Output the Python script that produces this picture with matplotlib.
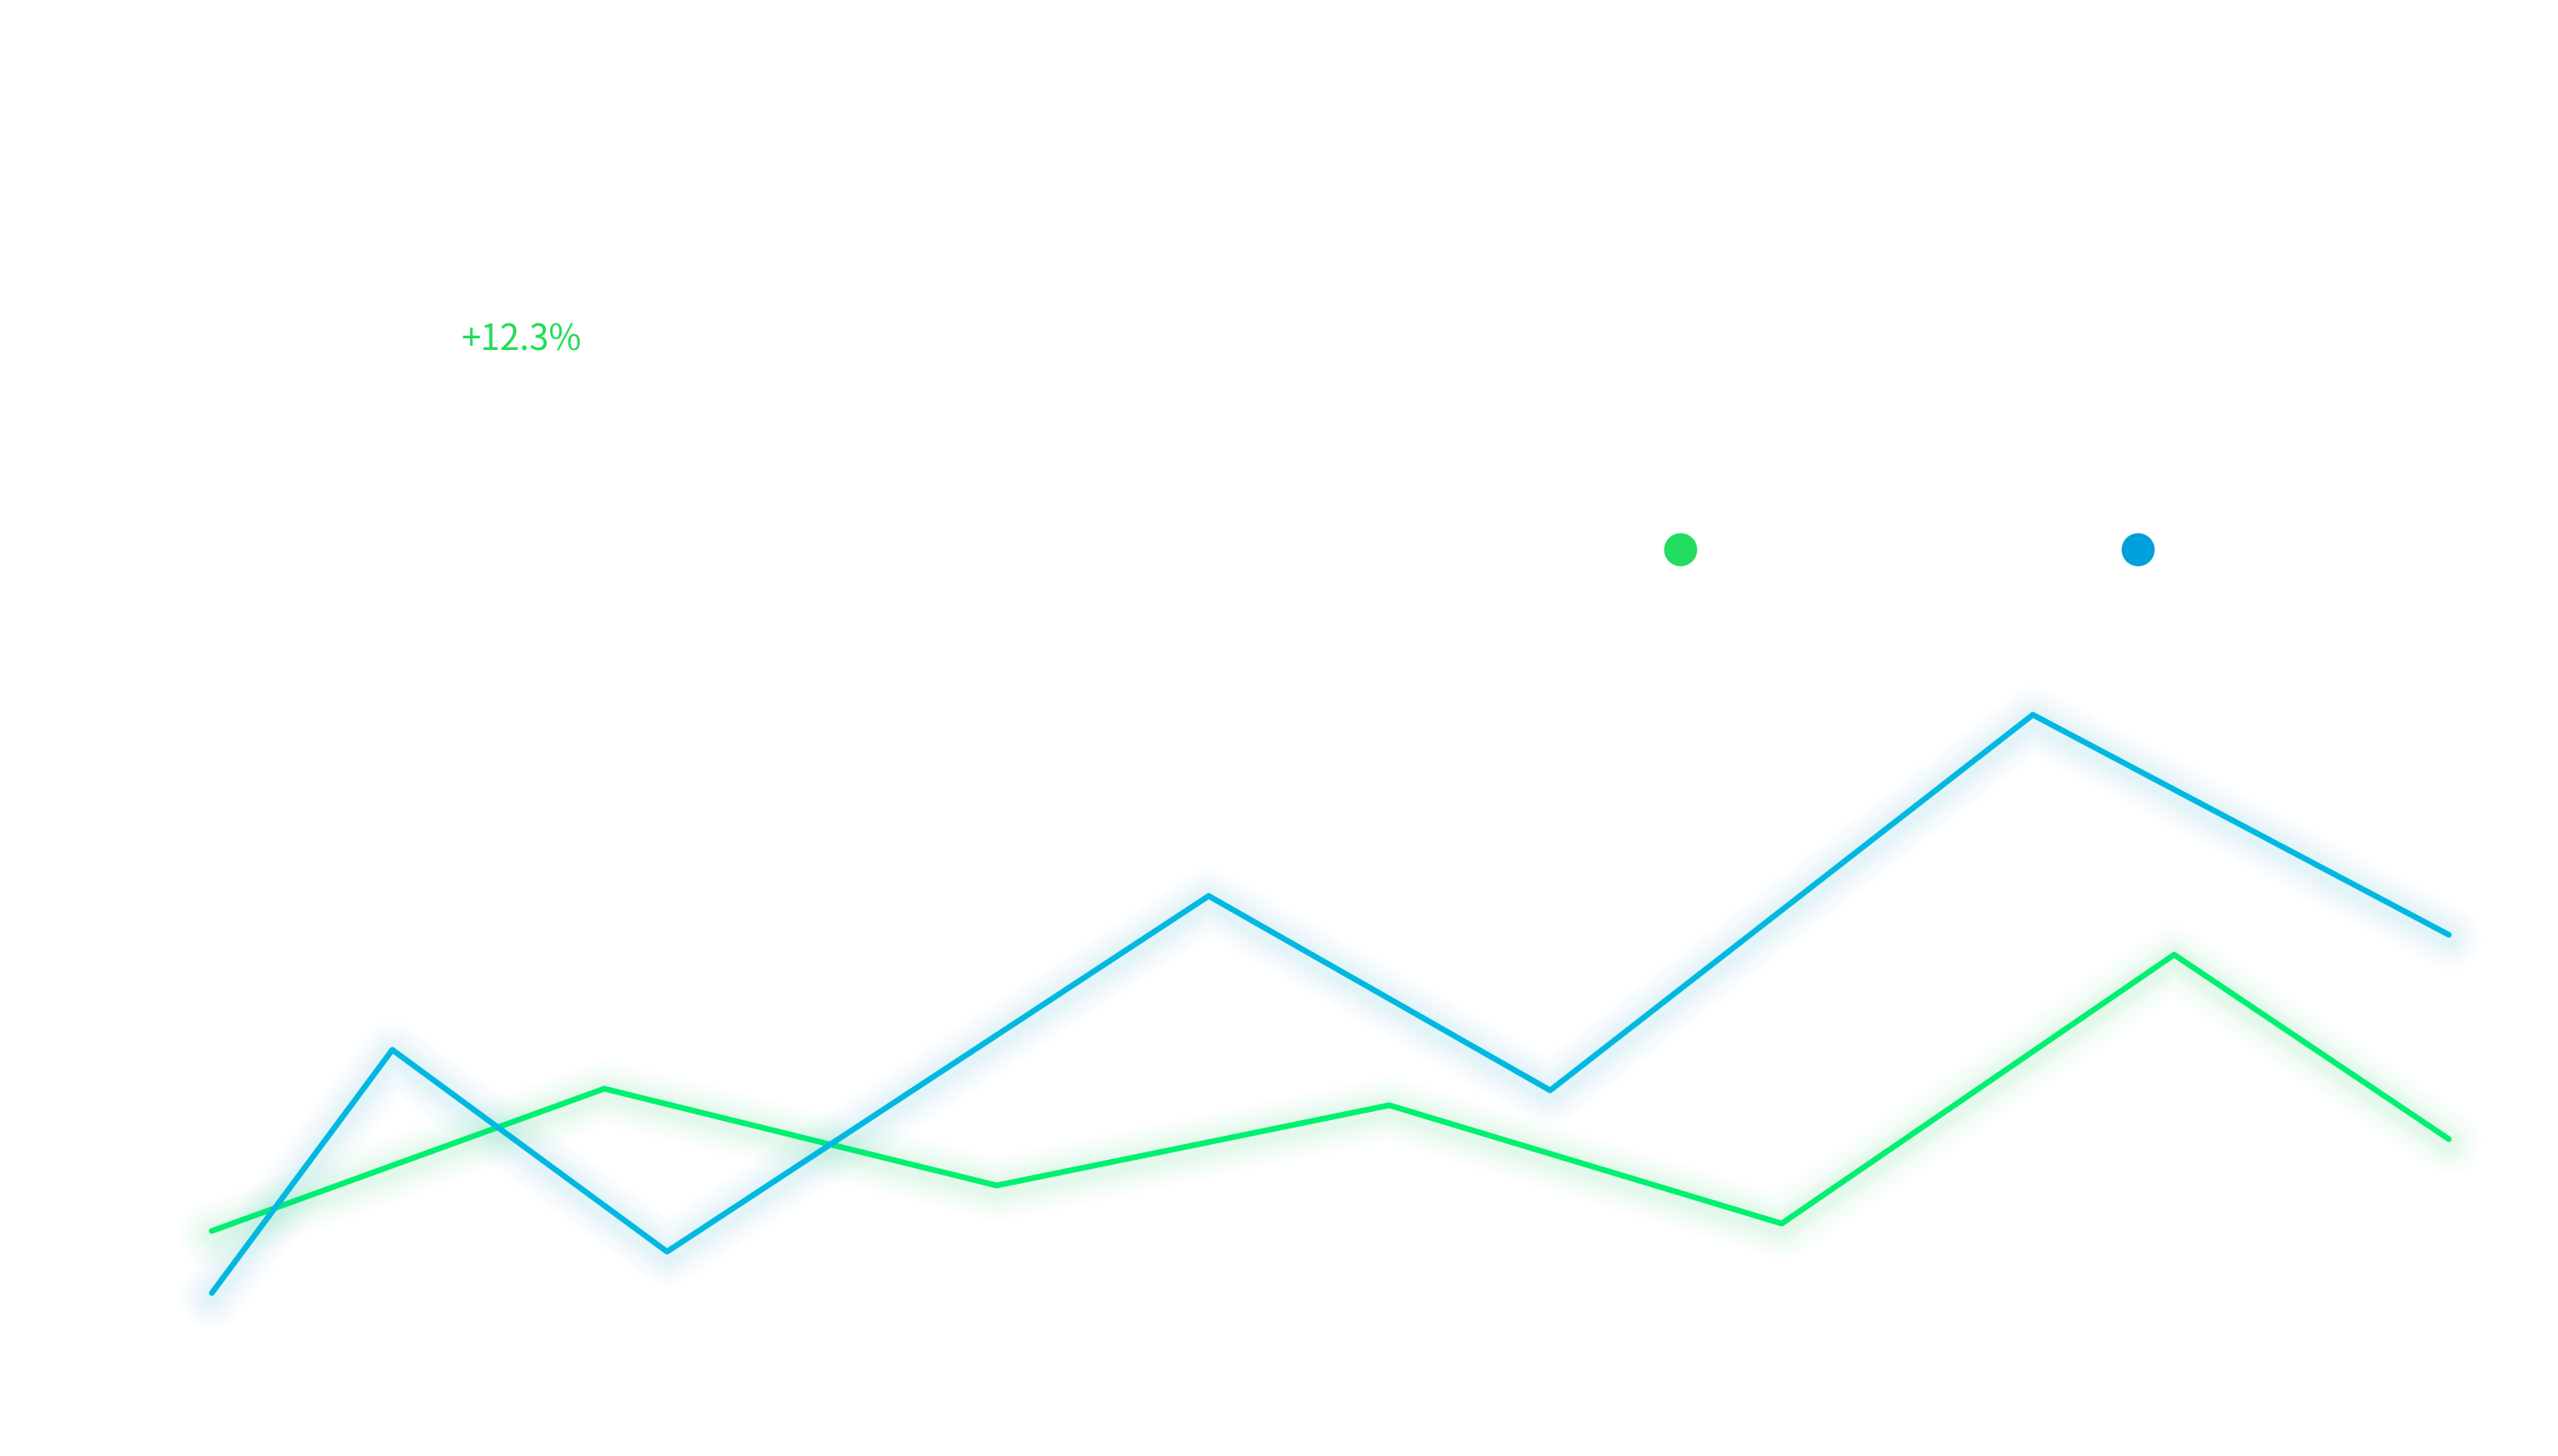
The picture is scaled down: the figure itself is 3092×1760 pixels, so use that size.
import matplotlib
matplotlib.use("Agg")
import matplotlib.pyplot as plt
import matplotlib.patheffects as pe

# ---- data ----
blue_x = [0, 4.6, 11.6, 25.4, 34.1, 46.4, 57]
blue_y = [9.85, 24.55, 12.35, 33.85, 22.1, 44.8, 31.5]
green_x = [0, 10, 20, 30, 40, 50, 57]
green_y = [13.6, 22.2, 16.35, 21.2, 14.05, 30.3, 19.15]
annotation_text = "+12.3%"
legend_colors = ["#22DD60", "#00A0DC"]

BLUE = "#00B8E0"
GREEN = "#00F070"

W, H, DPI = 3092, 1760, 200
fig = plt.figure(figsize=(W / DPI, H / DPI), dpi=DPI)
fig.patch.set_facecolor("white")
ax = fig.add_axes([0, 0, 1, 1])
ax.set_xlim(-5.396, 59.78)
ax.set_ylim(0, 88)
ax.axis("off")


def glow(color):
    effects = []
    for w in [28, 24, 20, 16, 13, 10, 8]:
        effects.append(pe.Stroke(linewidth=w, foreground=color, alpha=0.016,
                                 offset=(0, -1.5)))
    effects.append(pe.Normal())
    return effects


ax.plot(green_x, green_y, color=GREEN, lw=2.5, solid_joinstyle="round",
        solid_capstyle="round", path_effects=glow(GREEN), zorder=3)
ax.plot(blue_x, blue_y, color=BLUE, lw=2.5, solid_joinstyle="round",
        solid_capstyle="round", path_effects=glow(BLUE), zorder=4)

# legend dots (labels not visible in reference)
leg_pos = [(2031 / W, 1 - 664 / H), (2584 / W, 1 - 664 / H)]
for (px, py), c in zip(leg_pos, legend_colors):
    ax.plot([px], [py], marker="o", ms=14.4, color=c, mec="none",
            transform=ax.transAxes, zorder=5)

ax.text(557 / W, 1 - 423 / H, annotation_text, transform=ax.transAxes,
        ha="left", va="baseline", fontsize=15.3, color="#22DD55",
        family=["Noto Sans CJK JP", "DejaVu Sans"])

fig.savefig("out.png", dpi=DPI, facecolor="white")
